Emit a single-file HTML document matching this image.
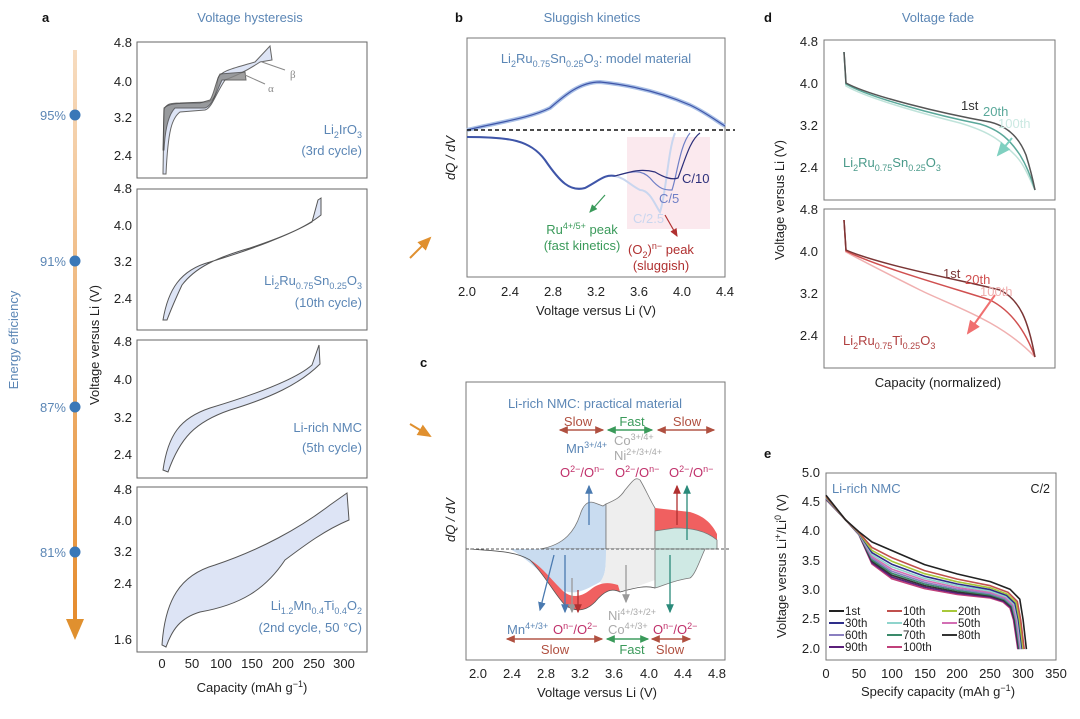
<!DOCTYPE html>
<html><head><meta charset="utf-8"><style>
html,body{margin:0;padding:0;background:#fff}
svg{display:block;font-family:"Liberation Sans",sans-serif}
.t{font-size:13px;fill:#222}
.b{fill:#5b86b5}
.lab{font-size:13px;font-weight:bold;fill:#111}
</style></head><body>
<svg width="1080" height="719" viewBox="0 0 1080 719" xmlns="http://www.w3.org/2000/svg">
<defs>
<linearGradient id="og" x1="0" y1="0" x2="0" y2="1"><stop offset="0" stop-color="#f7dcc0"/><stop offset="1" stop-color="#e58a2a"/></linearGradient>
<marker id="ar" markerWidth="8" markerHeight="8" refX="6" refY="4" orient="auto"><path d="M0,1 L7,4 L0,7 Z" fill="context-stroke"/></marker>
<marker id="arO" markerWidth="8" markerHeight="8" refX="6" refY="4" orient="auto"><path d="M0,1 L7,4 L0,7 Z" fill="#e0902f"/></marker>
</defs>

<!-- Panel a -->
<text x="42" y="22" class="lab">a</text>
<text x="250" y="22" font-size="13" class="b" text-anchor="middle">Voltage hysteresis</text>
<rect x="73" y="50" width="4" height="585" fill="url(#og)"/>
<path d="M75,625 L75,637" stroke="#e58a2a" stroke-width="3" marker-end="url(#arO)"/>
<g fill="#3a78b8"><circle cx="75" cy="115" r="5.5"/><circle cx="75" cy="261" r="5.5"/><circle cx="75" cy="407" r="5.5"/><circle cx="75" cy="552" r="5.5"/></g>
<g class="b" font-size="13" text-anchor="end"><text x="66" y="120">95%</text><text x="66" y="266">91%</text><text x="66" y="412">87%</text><text x="66" y="557">81%</text></g>
<text transform="translate(18,340) rotate(-90)" font-size="13" class="b" text-anchor="middle">Energy efficiency</text>
<text transform="translate(99,345) rotate(-90)" class="t" text-anchor="middle">Voltage versus Li (V)</text>

<g fill="none" stroke="#666" stroke-width="1">
<rect x="137" y="42" width="230" height="136"/>
<rect x="137" y="189" width="230" height="141"/>
<rect x="137" y="340" width="230" height="138"/>
<rect x="137" y="487" width="230" height="165"/>
</g>
<g class="t" text-anchor="end" font-size="12.5">
<text x="132" y="47">4.8</text><text x="132" y="86">4.0</text><text x="132" y="122">3.2</text><text x="132" y="160">2.4</text>
<text x="132" y="193">4.8</text><text x="132" y="230">4.0</text><text x="132" y="266">3.2</text><text x="132" y="303">2.4</text>
<text x="132" y="346">4.8</text><text x="132" y="384">4.0</text><text x="132" y="422">3.2</text><text x="132" y="459">2.4</text>
<text x="132" y="494">4.8</text><text x="132" y="525">4.0</text><text x="132" y="556">3.2</text><text x="132" y="588">2.4</text><text x="132" y="644">1.6</text>
</g>
<g class="t" text-anchor="middle" font-size="12.5">
<text x="162" y="668">0</text><text x="192" y="668">50</text><text x="221" y="668">100</text><text x="252" y="668">150</text><text x="283" y="668">200</text><text x="314" y="668">250</text><text x="344" y="668">300</text>
</g>
<text x="252" y="692" class="t" text-anchor="middle">Capacity (mAh g<tspan dy="-5" font-size="9">−1</tspan><tspan dy="5">)</tspan></text>

<!-- a1 -->
<path d="M163,174 L164,110 C166,104 170,103 180,103 L207,102 C214,101 216,96 218,78 C222,70 235,68 255,62 L270,46 L272,60 L260,62 C245,72 235,76 225,80 C215,95 212,108 205,110 L180,112 C172,118 168,130 166,174 Z" fill="#dde4f5" stroke="#666" stroke-width="1"/>
<path d="M163,150 L164,108 C168,104 175,103 200,103 L210,100 C214,95 216,80 220,74 L245,72 L246,80 L222,80 C215,95 212,106 205,108 L175,108 C168,115 165,130 164,150 Z" fill="#888" stroke="#444" stroke-width="1" opacity="0.8"/>
<path d="M262,62 L285,70 M245,75 L265,84" stroke="#888" stroke-width="1" fill="none"/>
<text x="290" y="78" font-size="11" fill="#888" font-family="Liberation Serif">β</text>
<text x="268" y="92" font-size="11" fill="#888" font-family="Liberation Serif">α</text>
<text x="362" y="134" font-size="13" class="b" text-anchor="end">Li<tspan dy="4" font-size="9">2</tspan><tspan dy="-4">IrO</tspan><tspan dy="4" font-size="9">3</tspan></text>
<text x="362" y="155" font-size="13" class="b" text-anchor="end">(3rd cycle)</text>
<!-- a2 -->
<path d="M163,320 C168,290 180,270 210,262 C250,250 290,235 312,222 L318,200 L321,198 L321,215 C305,228 280,238 250,248 C215,258 195,268 182,285 C175,300 170,312 167,320 Z" fill="#dde4f5" stroke="#555" stroke-width="1"/>
<text x="362" y="285" font-size="13" class="b" text-anchor="end">Li<tspan dy="4" font-size="9">2</tspan><tspan dy="-4">Ru</tspan><tspan dy="4" font-size="9">0.75</tspan><tspan dy="-4">Sn</tspan><tspan dy="4" font-size="9">0.25</tspan><tspan dy="-4">O</tspan><tspan dy="4" font-size="9">3</tspan></text>
<text x="362" y="307" font-size="13" class="b" text-anchor="end">(10th cycle)</text>
<!-- a3 -->
<path d="M163,470 C168,435 180,418 210,408 C250,396 295,380 312,365 L319,345 L320,364 C300,384 270,398 230,410 C195,422 180,438 168,472 Z" fill="#dde4f5" stroke="#555" stroke-width="1"/>
<text x="362" y="432" font-size="13" class="b" text-anchor="end">Li-rich NMC</text>
<text x="362" y="452" font-size="13" class="b" text-anchor="end">(5th cycle)</text>
<!-- a4 -->
<path d="M162,645 C165,600 180,575 215,565 C260,550 300,528 330,505 L347,493 L349,520 C325,530 305,545 285,560 C265,590 240,605 200,612 C180,618 172,630 166,647 Z" fill="#dde4f5" stroke="#555" stroke-width="1"/>
<text x="362" y="610" font-size="13" class="b" text-anchor="end">Li<tspan dy="4" font-size="9">1.2</tspan><tspan dy="-4">Mn</tspan><tspan dy="4" font-size="9">0.4</tspan><tspan dy="-4">Ti</tspan><tspan dy="4" font-size="9">0.4</tspan><tspan dy="-4">O</tspan><tspan dy="4" font-size="9">2</tspan></text>
<text x="362" y="632" font-size="13" class="b" text-anchor="end">(2nd cycle, 50 °C)</text>

<!-- connector arrows -->
<path d="M410,258 L430,238" stroke="#e0902f" stroke-width="2" marker-end="url(#arO)"/>
<path d="M410,424 L430,436" stroke="#e0902f" stroke-width="2" marker-end="url(#arO)"/>

<!-- Panel b -->
<text x="455" y="22" class="lab">b</text>
<text x="592" y="22" font-size="13" class="b" text-anchor="middle">Sluggish kinetics</text>
<rect x="627" y="137" width="83" height="92" fill="#fbe9ee"/>
<rect x="467" y="38" width="258" height="239" fill="none" stroke="#777"/>
<text x="596" y="63" font-size="13" class="b" text-anchor="middle">Li<tspan dy="4" font-size="9">2</tspan><tspan dy="-4">Ru</tspan><tspan dy="4" font-size="9">0.75</tspan><tspan dy="-4">Sn</tspan><tspan dy="4" font-size="9">0.25</tspan><tspan dy="-4">O</tspan><tspan dy="4" font-size="9">3</tspan><tspan dy="-4">: model material</tspan></text>
<path d="M467,130 C500,122 530,118 550,108 C565,95 580,82 600,82 C630,85 660,92 690,105 C705,112 718,122 725,126" fill="none" stroke="#a8bfe6" stroke-width="4"/>
<path d="M467,130 C500,122 530,118 550,108 C565,95 580,82 600,82 C630,85 660,92 690,105 C705,112 718,122 725,126" fill="none" stroke="#3f55a8" stroke-width="1.2"/>
<line x1="467" y1="130" x2="735" y2="130" stroke="#111" stroke-width="1.5" stroke-dasharray="4,3"/>
<path d="M467,137 C510,137 530,140 545,160 C560,182 570,192 585,188 C600,180 605,174 615,176 C625,178 630,185 640,190 C650,190 655,205 660,212 C666,195 668,150 675,133" fill="none" stroke="#c9d6ef" stroke-width="2"/>
<path d="M615,176 C630,172 640,168 650,178 C660,190 665,190 672,190 C677,175 680,145 690,133" fill="none" stroke="#6f7fc6" stroke-width="1.2"/>
<path d="M615,176 C630,172 640,168 655,172 C665,178 672,180 678,178 C685,160 690,140 700,133" fill="none" stroke="#2c2f7a" stroke-width="1.2"/>
<path d="M467,137 C510,137 530,140 545,160 C560,182 570,192 585,188 C600,180 605,174 615,176" fill="none" stroke="#3f55a8" stroke-width="2"/>
<text x="682" y="183" font-size="13" fill="#2c2f7a">C/10</text>
<text x="659" y="203" font-size="13" fill="#6f7fc6">C/5</text>
<text x="633" y="223" font-size="13" fill="#c9d6ef">C/2.5</text>
<path d="M605,195 L590,212" stroke="#3a9a5a" stroke-width="1.2" marker-end="url(#ar)"/>
<text x="582" y="234" font-size="13" fill="#3a9a5a" text-anchor="middle">Ru<tspan dy="-5" font-size="9">4+/5+</tspan><tspan dy="5"> peak</tspan></text>
<text x="582" y="250" font-size="13" fill="#3a9a5a" text-anchor="middle">(fast kinetics)</text>
<path d="M665,215 L677,236" stroke="#b03030" stroke-width="1.2" marker-end="url(#ar)"/>
<text x="661" y="254" font-size="13" fill="#b03030" text-anchor="middle">(O<tspan dy="4" font-size="9">2</tspan><tspan dy="-4">)</tspan><tspan dy="-5" font-size="9">n−</tspan><tspan dy="5"> peak</tspan></text>
<text x="661" y="270" font-size="13" fill="#b03030" text-anchor="middle">(sluggish)</text>
<text transform="translate(455,158) rotate(-90)" class="t" text-anchor="middle" font-style="italic">dQ / dV</text>
<g class="t" text-anchor="middle" font-size="12.5">
<text x="467" y="296">2.0</text><text x="510" y="296">2.4</text><text x="553" y="296">2.8</text><text x="596" y="296">3.2</text><text x="639" y="296">3.6</text><text x="682" y="296">4.0</text><text x="725" y="296">4.4</text>
</g>
<text x="596" y="315" class="t" text-anchor="middle">Voltage versus Li (V)</text>

<!-- Panel c -->
<text x="420" y="367" class="lab">c</text>
<rect x="466" y="382" width="259" height="278" fill="none" stroke="#777"/>
<text x="595" y="408" font-size="13" class="b" text-anchor="middle">Li-rich NMC: practical material</text>
<path d="M540,549 C565,545 575,530 580,515 C583,505 588,500 595,503 L603,506 L606,504 L606,549 Z" fill="#c9dcf0" stroke="#777" stroke-width="0.8"/>
<path d="M606,504 C615,500 620,498 625,490 C632,482 635,476 640,480 C645,488 650,500 655,508 L655,549 L606,549 Z" fill="#eeeeee" stroke="#777" stroke-width="0.8"/>
<path d="M655,508 L690,512 C700,515 710,520 717,534 L717,540 C705,530 690,528 675,528 L655,531 Z" fill="#f06060"/>
<path d="M655,531 L675,528 C690,528 705,530 717,540 L717,549 L655,549 Z" fill="#cfe9e4" stroke="#777" stroke-width="0.8"/>
<path d="M510,549 C530,560 545,578 562,590 C575,596 585,590 600,582 C606,575 606,565 606,549 Z" fill="#c9dcf0"/>
<path d="M606,549 L655,549 L655,580 C640,585 630,590 620,592 C610,590 606,588 600,582 C606,575 606,565 606,549 Z" fill="#eeeeee"/>
<path d="M655,549 L705,549 C700,560 695,575 690,578 C675,580 665,585 655,588 Z" fill="#cfe9e4" stroke="#777" stroke-width="0.8"/>
<path d="M530,560 C545,575 555,595 565,605 C575,612 585,612 595,602 C605,590 612,588 620,592 L618,585 C608,582 600,582 590,590 C580,598 570,598 562,590 C550,578 540,565 530,560 Z" fill="#f06060"/>
<path d="M470,549 C495,551 515,551 530,560 C545,575 555,595 565,605 C575,612 585,612 595,602 C605,590 612,588 620,592 C635,588 645,585 655,588" fill="none" stroke="#555" stroke-width="0.8"/>
<line x1="466" y1="549" x2="730" y2="549" stroke="#555" stroke-width="1" stroke-dasharray="3,2"/>
<g font-size="13">
<text x="578" y="426" fill="#b05040" text-anchor="middle">Slow</text>
<text x="632" y="426" fill="#3a9a5a" text-anchor="middle">Fast</text>
<text x="687" y="426" fill="#b05040" text-anchor="middle">Slow</text>
<text x="566" y="453" fill="#5b86b5">Mn<tspan dy="-5" font-size="9">3+/4+</tspan></text>
<text x="614" y="445" fill="#aaa">Co<tspan dy="-5" font-size="9">3+/4+</tspan></text>
<text x="614" y="460" fill="#aaa">Ni<tspan dy="-5" font-size="9">2+/3+/4+</tspan></text>
<text x="560" y="477" fill="#c0306a">O<tspan dy="-5" font-size="9">2−</tspan><tspan dy="5">/O</tspan><tspan dy="-5" font-size="9">n−</tspan></text>
<text x="615" y="477" fill="#c0306a">O<tspan dy="-5" font-size="9">2−</tspan><tspan dy="5">/O</tspan><tspan dy="-5" font-size="9">n−</tspan></text>
<text x="669" y="477" fill="#c0306a">O<tspan dy="-5" font-size="9">2−</tspan><tspan dy="5">/O</tspan><tspan dy="-5" font-size="9">n−</tspan></text>
<text x="507" y="634" fill="#5b86b5">Mn<tspan dy="-5" font-size="9">4+/3+</tspan></text>
<text x="553" y="634" fill="#c0306a">O<tspan dy="-5" font-size="9">n−</tspan><tspan dy="5">/O</tspan><tspan dy="-5" font-size="9">2−</tspan></text>
<text x="608" y="620" fill="#aaa">Ni<tspan dy="-5" font-size="9">4+/3+/2+</tspan></text>
<text x="608" y="634" fill="#aaa">Co<tspan dy="-5" font-size="9">4+/3+</tspan></text>
<text x="653" y="634" fill="#c0306a">O<tspan dy="-5" font-size="9">n−</tspan><tspan dy="5">/O</tspan><tspan dy="-5" font-size="9">2−</tspan></text>
<text x="555" y="654" fill="#b05040" text-anchor="middle">Slow</text>
<text x="632" y="654" fill="#3a9a5a" text-anchor="middle">Fast</text>
<text x="670" y="654" fill="#b05040" text-anchor="middle">Slow</text>
</g>
<g stroke-width="1.3" fill="none">
<path d="M560,430 L603,430" stroke="#b05040" marker-end="url(#ar)"/><path d="M603,430 L560,430" stroke="#b05040" marker-end="url(#ar)"/>
<path d="M608,430 L652,430" stroke="#3a9a5a" marker-end="url(#ar)"/><path d="M652,430 L608,430" stroke="#3a9a5a" marker-end="url(#ar)"/>
<path d="M658,430 L714,430" stroke="#b05040" marker-end="url(#ar)"/><path d="M714,430 L658,430" stroke="#b05040" marker-end="url(#ar)"/>
<path d="M507,639 L602,639" stroke="#b05040" marker-end="url(#ar)"/><path d="M602,639 L507,639" stroke="#b05040" marker-end="url(#ar)"/>
<path d="M607,639 L648,639" stroke="#3a9a5a" marker-end="url(#ar)"/><path d="M648,639 L607,639" stroke="#3a9a5a" marker-end="url(#ar)"/>
<path d="M652,639 L690,639" stroke="#b05040" marker-end="url(#ar)"/><path d="M690,639 L652,639" stroke="#b05040" marker-end="url(#ar)"/>
<path d="M589,525 L589,486" stroke="#4a7ab0" marker-end="url(#ar)"/>
<path d="M677,525 L677,486" stroke="#b03030" marker-end="url(#ar)"/>
<path d="M687,540 L687,486" stroke="#2a8a7a" marker-end="url(#ar)"/>
<path d="M554,555 L540,610" stroke="#4a7ab0" marker-end="url(#ar)"/>
<path d="M565,555 L565,612" stroke="#4a7ab0" marker-end="url(#ar)"/>
<path d="M572,578 L572,612" stroke="#999" marker-end="url(#ar)"/>
<path d="M578,590 L578,612" stroke="#b03030" marker-end="url(#ar)"/>
<path d="M626,565 L626,602" stroke="#999" marker-end="url(#ar)"/>
<path d="M670,555 L670,612" stroke="#2a8a7a" marker-end="url(#ar)"/>
</g>
<text transform="translate(455,520) rotate(-90)" class="t" text-anchor="middle" font-style="italic">dQ / dV</text>
<g class="t" text-anchor="middle" font-size="12.5">
<text x="478" y="678">2.0</text><text x="512" y="678">2.4</text><text x="546" y="678">2.8</text><text x="580" y="678">3.2</text><text x="614" y="678">3.6</text><text x="649" y="678">4.0</text><text x="683" y="678">4.4</text><text x="717" y="678">4.8</text>
</g>
<text x="597" y="697" class="t" text-anchor="middle">Voltage versus Li (V)</text>

<!-- Panel d -->
<text x="764" y="22" class="lab">d</text>
<text x="938" y="22" font-size="13" class="b" text-anchor="middle">Voltage fade</text>
<rect x="824" y="40" width="231" height="160" fill="none" stroke="#777"/>
<rect x="824" y="209" width="231" height="159" fill="none" stroke="#777"/>
<g class="t" text-anchor="end" font-size="12.5">
<text x="818" y="46">4.8</text><text x="818" y="88">4.0</text><text x="818" y="130">3.2</text><text x="818" y="172">2.4</text>
<text x="818" y="214">4.8</text><text x="818" y="256">4.0</text><text x="818" y="298">3.2</text><text x="818" y="340">2.4</text>
</g>
<text transform="translate(784,200) rotate(-90)" class="t" text-anchor="middle">Voltage versus Li (V)</text>
<text x="938" y="387" class="t" text-anchor="middle">Capacity (normalized)</text>
<g fill="none" stroke-width="1.5">
<path d="M844,52 L846,86 C870,100 940,118 960,123 C990,132 1000,140 1015,155 C1025,165 1030,180 1035,190" stroke="#bfe3da"/>
<path d="M844,52 L846,84 C870,98 940,116 980,124 C1000,130 1010,140 1020,155 C1028,168 1032,180 1035,190" stroke="#5aa89a"/>
<path d="M844,52 L846,83 C870,96 940,113 990,122 C1010,127 1020,140 1026,155 C1030,168 1033,180 1035,190" stroke="#555"/>
<path d="M844,220 L846,252 C870,265 900,280 920,290 C950,305 1000,320 1035,357" stroke="#f0b0b0"/>
<path d="M844,220 L846,251 C880,268 960,290 990,300 C1010,310 1025,330 1035,357" stroke="#d05050"/>
<path d="M844,220 L846,250 C880,265 960,280 1000,290 C1020,300 1028,320 1035,357" stroke="#7a3535"/>
</g>
<path d="M1012,138 L998,155" stroke="#7fd0c0" stroke-width="2" marker-end="url(#ar)"/>
<path d="M995,295 L968,333" stroke="#f07070" stroke-width="2" marker-end="url(#ar)"/>
<g font-size="13">
<text x="961" y="110" fill="#333">1st</text><text x="983" y="116" fill="#5aa89a">20th</text><text x="998" y="128" fill="#cbe9e2">100th</text>
<text x="943" y="278" fill="#7a3535">1st</text><text x="965" y="284" fill="#d05050">20th</text><text x="980" y="296" fill="#f0b0b0">100th</text>
<text x="843" y="167" fill="#4a9a8a">Li<tspan dy="4" font-size="9">2</tspan><tspan dy="-4">Ru</tspan><tspan dy="4" font-size="9">0.75</tspan><tspan dy="-4">Sn</tspan><tspan dy="4" font-size="9">0.25</tspan><tspan dy="-4">O</tspan><tspan dy="4" font-size="9">3</tspan></text>
<text x="843" y="345" fill="#b04040">Li<tspan dy="4" font-size="9">2</tspan><tspan dy="-4">Ru</tspan><tspan dy="4" font-size="9">0.75</tspan><tspan dy="-4">Ti</tspan><tspan dy="4" font-size="9">0.25</tspan><tspan dy="-4">O</tspan><tspan dy="4" font-size="9">3</tspan></text>
</g>

<!-- Panel e -->
<text x="764" y="458" class="lab">e</text>
<rect x="826" y="473" width="230" height="187" fill="none" stroke="#777"/>
<g fill="none" stroke-width="1.6" stroke-linejoin="round">
<polyline stroke="#c0407a" points="826,499.4 845.7,520 858.9,534.6 872,564 891.7,578.7 924.6,588.6 957.4,594.5 990.3,598 1003,602 1010,608 1013.5,620 1017.8,649.1"/>
<polyline stroke="#5a1f7a" points="826,499.1 845.7,520 858.9,534.4 872,562.7 891.7,577 924.6,587.1 957.4,593.2 990.3,597 1003.4,601.2 1010.6,607.5 1014.1,620 1018.3,649.1"/>
<polyline stroke="#333" points="826,498.9 845.7,520 858.9,534.2 872,561.3 891.7,575.2 924.6,585.6 957.4,591.9 990.3,596 1003.9,600.4 1011.2,606.9 1014.7,620 1018.9,649.1"/>
<polyline stroke="#3a8a6a" points="826,498.6 845.7,520 858.9,534 872,559.8 891.7,573.3 924.6,584 957.4,590.5 990.3,594.9 1004.4,599.5 1011.9,606.3 1015.4,620 1019.5,649.1"/>
<polyline stroke="#8a7fc0" points="826,498.3 845.7,520 858.9,533.8 872,558.2 891.7,571.3 924.6,582.3 957.4,589.1 990.3,593.7 1004.8,598.6 1012.6,605.7 1016,619.9 1020.1,649.1"/>
<polyline stroke="#d36fb4" points="826,498 845.7,520 858.9,533.6 872,556.5 891.7,569.1 924.6,580.4 957.4,587.5 990.3,592.4 1005.4,597.6 1013.3,605 1016.8,619.9 1020.7,649.1"/>
<polyline stroke="#8fd4cc" points="826,497.7 845.7,520 858.9,533.4 872,554.7 891.7,566.8 924.6,578.5 957.4,585.8 990.3,591.1 1006,596.6 1014.1,604.3 1017.6,619.9 1021.4,649.1"/>
<polyline stroke="#2e2e8a" points="826,497.3 845.7,520 858.9,533.1 872,552.7 891.7,564.2 924.6,576.3 957.4,584 990.3,589.6 1006.6,595.4 1015,603.5 1018.4,619.9 1022.2,649.1"/>
<polyline stroke="#a8c83a" points="826,496.9 845.7,520 858.9,532.8 872,550.4 891.7,561.2 924.6,573.7 957.4,581.8 990.3,587.8 1007.3,594.1 1016.1,602.6 1019.4,619.9 1023.1,649.1"/>
<polyline stroke="#c0504d" points="826,496.3 845.7,520 858.9,532.4 872,547.5 891.7,557.6 924.6,570.6 957.4,579.1 990.3,585.7 1008.2,592.4 1017.3,601.4 1020.7,619.9 1024.2,649.1"/>
<polyline stroke="#222" points="826,495.3 845.7,520 858.9,531.7 872,542 891.7,550.5 924.6,564.6 957.4,574 990.3,581.6 1010,589.2 1019.8,599.2 1023.1,619.8 1026.4,649.1"/>
</g>
<text x="832" y="493" font-size="13" class="b">Li-rich NMC</text>
<text x="1050" y="493" font-size="12.5" fill="#222" text-anchor="end">C/2</text>
<g class="t" text-anchor="end" font-size="12.5">
<text x="820" y="477">5.0</text><text x="820" y="506">4.5</text><text x="820" y="535">4.0</text><text x="820" y="565">3.5</text><text x="820" y="594">3.0</text><text x="820" y="623">2.5</text><text x="820" y="653">2.0</text>
</g>
<g class="t" text-anchor="middle" font-size="12.5">
<text x="826" y="678">0</text><text x="859" y="678">50</text><text x="892" y="678">100</text><text x="925" y="678">150</text><text x="957" y="678">200</text><text x="990" y="678">250</text><text x="1023" y="678">300</text><text x="1056" y="678">350</text>
</g>
<text x="938" y="696" class="t" text-anchor="middle">Specify capacity (mAh g<tspan dy="-5" font-size="9">−1</tspan><tspan dy="5">)</tspan></text>
<text transform="translate(786,566) rotate(-90)" class="t" text-anchor="middle" font-size="12.5">Voltage versus Li<tspan dy="-5" font-size="9">+</tspan><tspan dy="5">/Li</tspan><tspan dy="-5" font-size="9">0</tspan><tspan dy="5"> (V)</tspan></text>
<g font-size="11.5" fill="#222">
<text x="845" y="615">1st</text><text x="903" y="615">10th</text><text x="958" y="615">20th</text>
<text x="845" y="627">30th</text><text x="903" y="627">40th</text><text x="958" y="627">50th</text>
<text x="845" y="639">60th</text><text x="903" y="639">70th</text><text x="958" y="639">80th</text>
<text x="845" y="651">90th</text><text x="903" y="651">100th</text>
</g>
<g stroke-width="2">
<line x1="829" y1="611" x2="844" y2="611" stroke="#222"/><line x1="887" y1="611" x2="902" y2="611" stroke="#c0504d"/><line x1="942" y1="611" x2="957" y2="611" stroke="#a8c83a"/>
<line x1="829" y1="623" x2="844" y2="623" stroke="#2e2e8a"/><line x1="887" y1="623" x2="902" y2="623" stroke="#8fd4cc"/><line x1="942" y1="623" x2="957" y2="623" stroke="#d36fb4"/>
<line x1="829" y1="635" x2="844" y2="635" stroke="#8a7fc0"/><line x1="887" y1="635" x2="902" y2="635" stroke="#3a8a6a"/><line x1="942" y1="635" x2="957" y2="635" stroke="#333"/>
<line x1="829" y1="647" x2="844" y2="647" stroke="#5a1f7a"/><line x1="887" y1="647" x2="902" y2="647" stroke="#c0407a"/>
</g>
</svg>
</body></html>
